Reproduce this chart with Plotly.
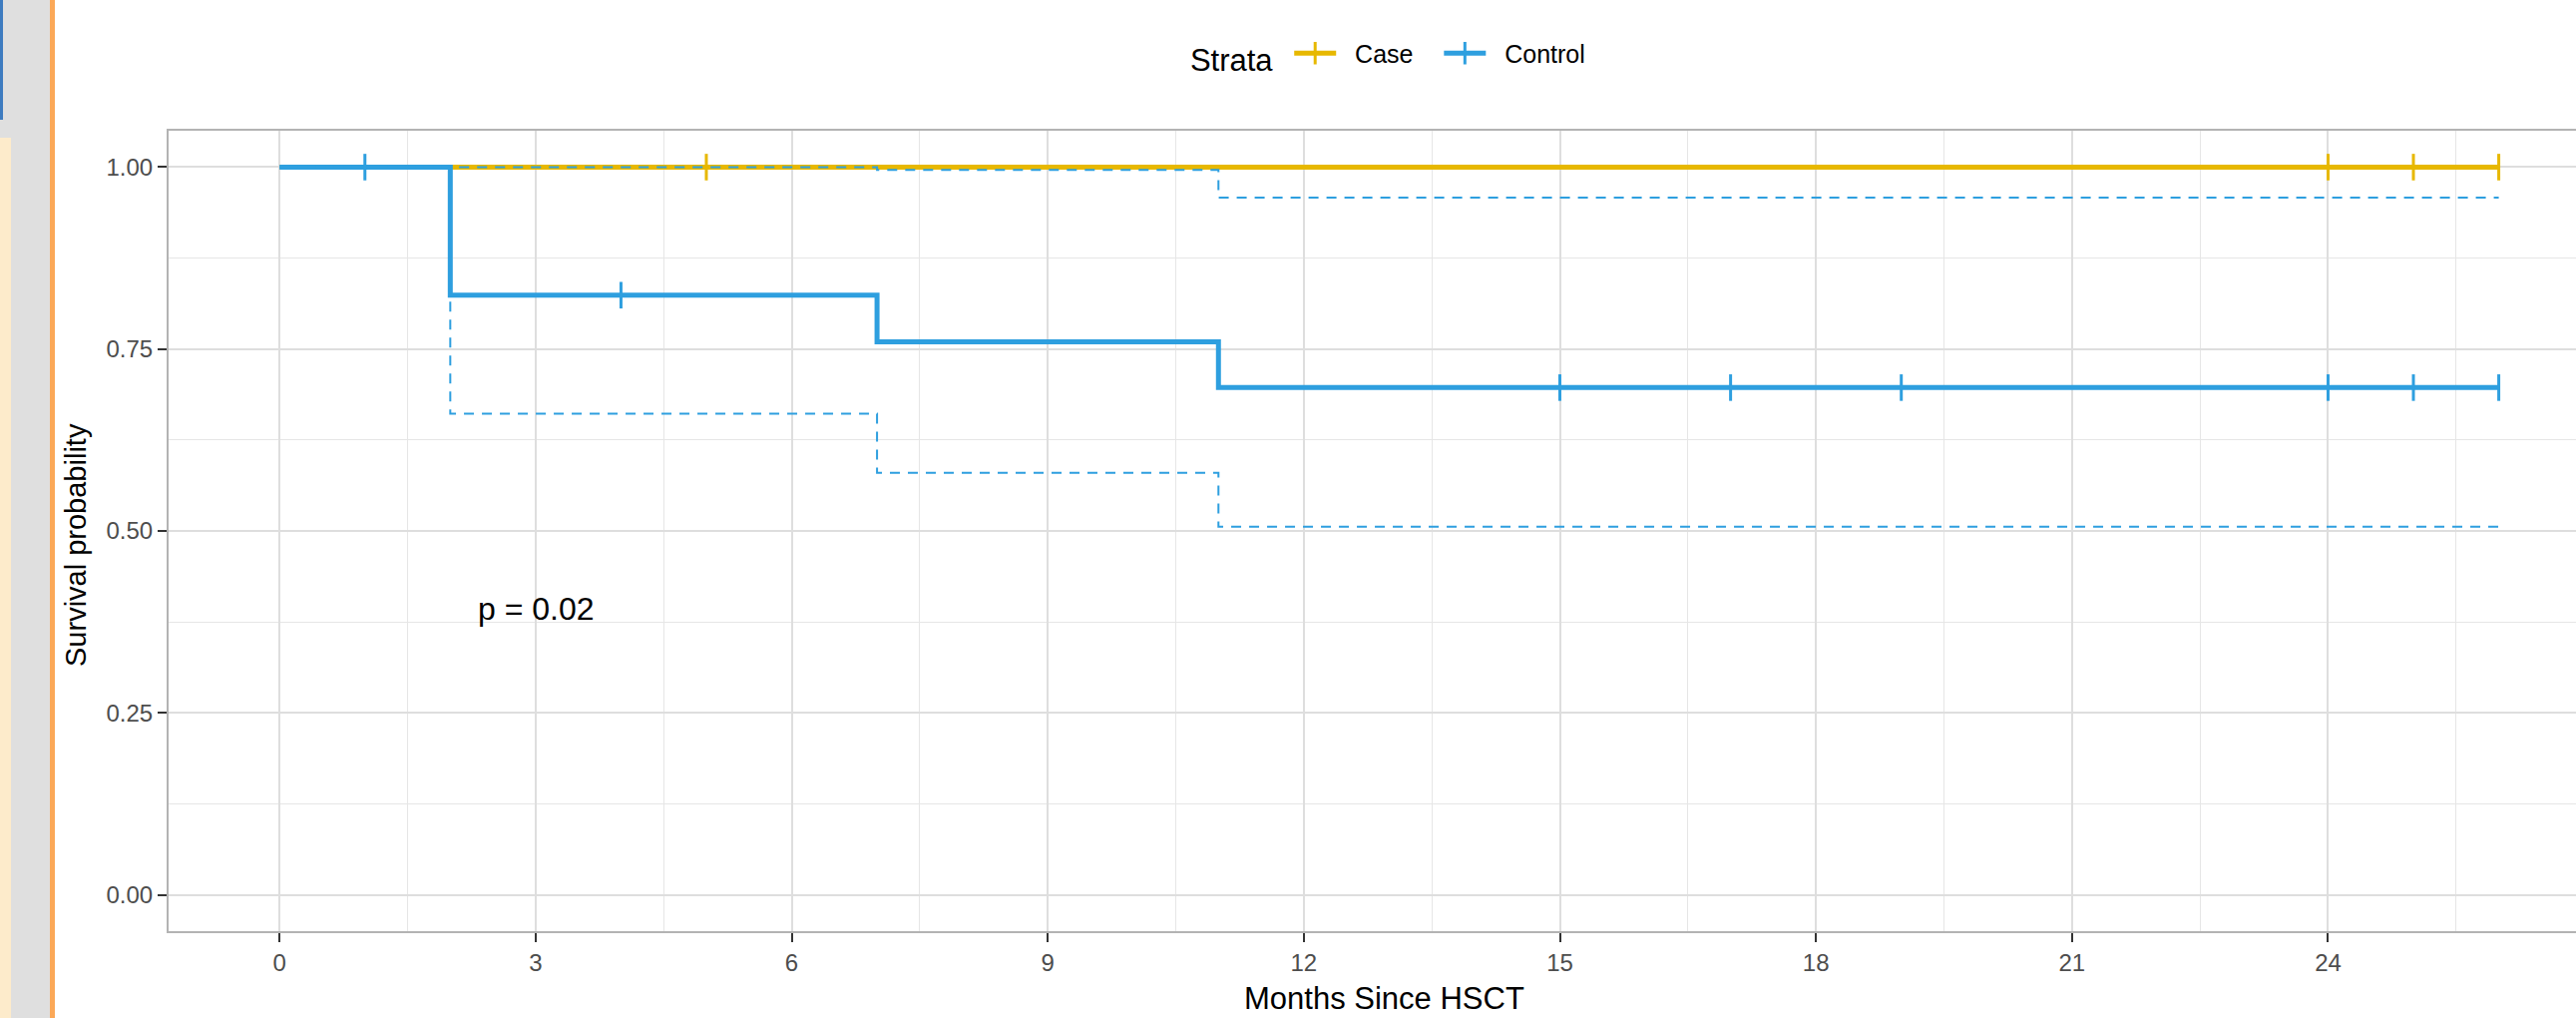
import plotly.graph_objects as go

# ---------------- data ----------------
strata = ["Case", "Control"]
colors = ["#E7B800", "#2E9FDF"]

case_step_time = [0, 26]
case_step_surv = [1.0, 1.0]
case_censor_time = [5, 24, 25, 26]

control_step_time = [0, 2, 7, 11, 26]
control_step_surv = [1.0, 0.824, 0.760, 0.697, 0.697]
control_upper = [1.0, 1.0, 0.996, 0.958, 0.958]
control_lower = [1.0, 0.661, 0.580, 0.506, 0.506]
control_censor_time = [1, 4, 15, 17, 19, 24, 25, 26]

x_ticks = [0, 3, 6, 9, 12, 15, 18, 21, 24]
y_ticks = [0.0, 0.25, 0.5, 0.75, 1.0]
y_tick_labels = ["0.00", "0.25", "0.50", "0.75", "1.00"]

p_text = "p = 0.02"
x_title = "Months Since HSCT"
y_title = "Survival probability"
legend_title = "Strata"

# ---------------- geometry ----------------
W, H = 2582, 1020
ML, MR, MT, MB = 169, 0, 131, 87
PW, PH = W - ML - MR, H - MT - MB


def px_x(px):
    return (px - ML) / PW


def px_y(py):
    return (H - MB - py) / PH


def step_lookup(times, surv, t):
    val = surv[0]
    for ti, si in zip(times, surv):
        if ti <= t:
            val = si
    return val


FONT = "Liberation Sans, Arial, sans-serif"
NB = "\u00a0"

fig = go.Figure()

# Case curve
fig.add_trace(go.Scatter(x=case_step_time, y=case_step_surv, mode="lines",
                         line=dict(color=colors[0], width=5, shape="hv"),
                         showlegend=False, hoverinfo="skip"))
fig.add_trace(go.Scatter(x=case_censor_time,
                         y=[step_lookup(case_step_time, case_step_surv, t) for t in case_censor_time],
                         mode="markers",
                         marker=dict(symbol="line-ns", size=19, color=colors[0],
                                     line=dict(color=colors[0], width=3)),
                         showlegend=False, hoverinfo="skip"))

# Control curve
fig.add_trace(go.Scatter(x=control_step_time, y=control_step_surv, mode="lines",
                         line=dict(color=colors[1], width=5, shape="hv"),
                         showlegend=False, hoverinfo="skip"))
for ci in (control_upper, control_lower):
    fig.add_trace(go.Scatter(x=control_step_time, y=ci, mode="lines",
                             line=dict(color=colors[1], width=2, shape="hv", dash="10px,8px"),
                             showlegend=False, hoverinfo="skip"))
fig.add_trace(go.Scatter(x=control_censor_time,
                         y=[step_lookup(control_step_time, control_step_surv, t) for t in control_censor_time],
                         mode="markers",
                         marker=dict(symbol="line-ns", size=19, color=colors[1],
                                     line=dict(color=colors[1], width=3)),
                         showlegend=False, hoverinfo="skip"))

# legend-only entries
legend_names = [NB * 2 + strata[0] + NB * 3, NB * 2 + strata[1]]
for name, col in zip(legend_names, colors):
    fig.add_trace(go.Scatter(x=[None], y=[None], mode="lines+markers", name=name,
                             line=dict(color=col, width=5),
                             marker=dict(symbol="line-ns", size=16, color=col,
                                         line=dict(color=col, width=3))))

# p-value
fig.add_annotation(x=2.3, y=0.393, xref="x", yref="y", text=p_text, showarrow=False,
                   xanchor="left", yanchor="middle",
                   font=dict(family=FONT, size=32, color="black"))

# axis titles (centred on the original, wider panel)
fig.add_annotation(x=px_x(1387), y=px_y(1000), xref="paper", yref="paper", text=x_title,
                   showarrow=False, xanchor="center", yanchor="middle",
                   font=dict(family=FONT, size=31, color="black"))
fig.add_annotation(x=px_x(76), y=px_y(546), xref="paper", yref="paper", text=y_title,
                   showarrow=False, xanchor="center", yanchor="middle", textangle=-90,
                   font=dict(family=FONT, size=29, color="black"))

# left window strip (screenshot decoration)
shapes = [
    dict(x0=0, x1=50, y0=0, y1=H, color="#DFDFDF"),
    dict(x0=50, x1=55, y0=0, y1=H, color="#FBA858"),
    dict(x0=0, x1=11, y0=138, y1=H, color="#FDEBCB"),
    dict(x0=0, x1=3, y0=0, y1=120, color="#3E7CC0"),
]
for s in shapes:
    fig.add_shape(type="rect", xref="paper", yref="paper",
                  x0=px_x(s["x0"]), x1=px_x(s["x1"]), y0=px_y(s["y1"]), y1=px_y(s["y0"]),
                  fillcolor=s["color"], line=dict(width=0), layer="above")

fig.update_layout(
    width=W, height=H,
    margin=dict(l=ML, r=MR, t=MT, b=MB, pad=0),
    paper_bgcolor="white", plot_bgcolor="white",
    font=dict(family=FONT, color="black"),
    legend=dict(orientation="h", x=0.507, xanchor="center", y=px_y(56), yanchor="middle",
                title=dict(text=legend_title + NB, font=dict(size=31, family=FONT, color="black")),
                font=dict(size=25, family=FONT, color="black"),
                itemwidth=42,
                bgcolor="rgba(0,0,0,0)"),
    showlegend=True,
)

fig.update_xaxes(
    range=[-1.3, 26.905], tickmode="array", tickvals=x_ticks,
    ticktext=[str(v) for v in x_ticks],
    ticks="outside", ticklen=9, tickwidth=2, tickcolor="#333333",
    tickfont=dict(size=24, family=FONT, color="#4D4D4D"),
    showline=True, linecolor="#B3B3B3", linewidth=2, mirror=True,
    showgrid=True, gridcolor="#DEDEDE", gridwidth=1.5,
    minor=dict(dtick=1.5, tick0=0, showgrid=True, gridcolor="#E6E6E6", gridwidth=1.2),
    zeroline=False,
)
fig.update_yaxes(
    range=[-0.05, 1.05], tickmode="array", tickvals=y_ticks, ticktext=y_tick_labels,
    ticks="outside", ticklen=9, tickwidth=2, tickcolor="#333333",
    tickfont=dict(size=24, family=FONT, color="#4D4D4D"),
    showline=True, linecolor="#B3B3B3", linewidth=2, mirror=False,
    showgrid=True, gridcolor="#DEDEDE", gridwidth=1.5,
    minor=dict(dtick=0.125, tick0=0, showgrid=True, gridcolor="#E6E6E6", gridwidth=1.2),
    zeroline=False,
)

fig.write_html("out.html", config={"displayModeBar": False},
               post_script="document.body.style.margin='0';")
